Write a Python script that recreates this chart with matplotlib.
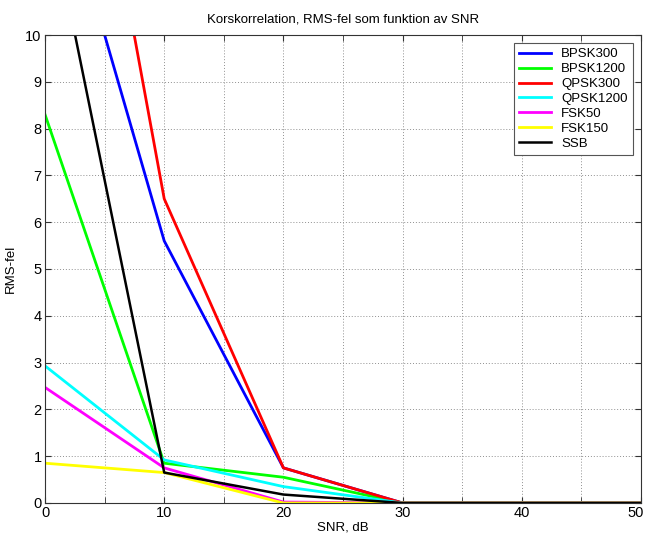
import matplotlib
matplotlib.use('Agg')
import matplotlib.pyplot as plt
import matplotlib.transforms as mtransforms
from matplotlib.ticker import MultipleLocator

snr = [0, 10, 20, 30, 40, 50]
bpsk300 = [14.4, 5.6, 0.75, 0, 0, 0]
bpsk1200 = [8.3, 0.85, 0.55, 0, 0, 0]
qpsk300 = [20.4, 6.5, 0.75, 0, 0, 0]
qpsk1200 = [2.93, 0.92, 0.35, 0, 0, 0]
fsk50 = [2.47, 0.75, 0.02, 0, 0, 0]
fsk150 = [0.85, 0.65, 0.0, 0, 0, 0]
ssb = [13.15, 0.65, 0.18, 0, 0, 0]

series = [
    ('BPSK300', bpsk300, '#0000ff'),
    ('BPSK1200', bpsk1200, '#00ff00'),
    ('QPSK300', qpsk300, '#ff0000'),
    ('QPSK1200', qpsk1200, '#00ffff'),
    ('FSK50', fsk50, '#ff00ff'),
    ('FSK150', fsk150, '#ffff00'),
    ('SSB', ssb, '#000000'),
]

plt.rcParams['font.family'] = ['Liberation Sans', 'DejaVu Sans']
plt.rcParams['font.size'] = 9

fig = plt.figure(figsize=(6.47, 5.36), dpi=100)
ax = fig.add_axes([0.0696, 0.0616, 0.9211, 0.8731])

for name, vals, col in series:
    lw = 1.8 if name == 'SSB' else 2.0
    ax.plot(snr, vals, color=col, linewidth=lw, label=name)

ax.set_xlim(0, 50)
ax.set_ylim(0, 10)
ax.set_xticks(snr)
ax.xaxis.set_minor_locator(MultipleLocator(5))
ax.yaxis.set_major_locator(MultipleLocator(1))
ax.grid(True, which='major', linestyle=(0, (1, 2)), color='#909090', linewidth=0.7)
ax.grid(True, which='minor', axis='x', linestyle=(0, (1, 2)), color='#909090', linewidth=0.7)
ax.tick_params(which='both', direction='in', top=True, right=True, length=4,
               labelsize=10.5, color='#333333', pad=2.5)
for sp in ax.spines.values():
    sp.set_color('#333333')

ax.set_title('Korskorrelation, RMS-fel som funktion av SNR', fontsize=9.5, pad=9)
ax.set_xlabel('SNR, dB', fontsize=9.5, labelpad=1)
ax.set_ylabel('RMS-fel', fontsize=9.5, labelpad=6)

# nudge the "50" left so it stays inside the figure edge
last = ax.xaxis.get_major_ticks()[-1].label1
last.set_transform(last.get_transform() +
                   mtransforms.ScaledTranslation(-3.5 / 72, 0, fig.dpi_scale_trans))

leg = ax.legend(loc='upper right', fancybox=False, edgecolor='#555555',
                borderaxespad=0.6, handlelength=2.4, labelspacing=0.2,
                framealpha=1, fontsize=9.5, borderpad=0.4)
leg.get_frame().set_linewidth(0.8)

fig.savefig('out.png', dpi=100)
